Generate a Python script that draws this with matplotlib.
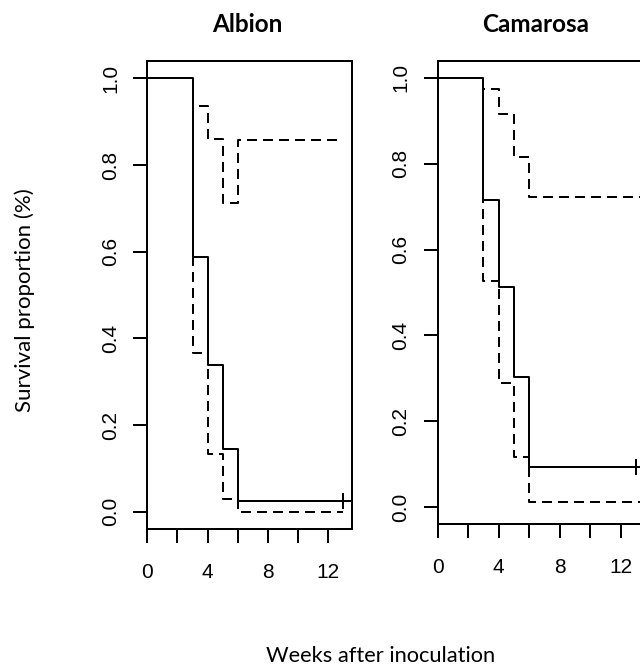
import matplotlib
matplotlib.use("Agg")
import matplotlib.pyplot as plt

# ---- data ----
panels = ["Albion", "Camarosa"]

alb_solid_t = [0, 3, 4, 5, 6, 13.6]
alb_solid_s = [1.0, 0.588, 0.339, 0.145, 0.025, 0.025]
alb_dash_hi_t = [0, 3, 4, 5, 6, 13]
alb_dash_hi_s = [1.0, 0.937, 0.860, 0.712, 0.857, 0.857]
alb_dash_lo_t = [0, 3, 4, 5, 6, 13]
alb_dash_lo_s = [1.0, 0.367, 0.134, 0.030, 0.0, 0.0]
alb_censor_t = [13]
alb_censor_s = [0.025]

cam_solid_t = [0, 3, 4, 5, 6, 14]
cam_solid_s = [1.0, 0.715, 0.512, 0.304, 0.0945, 0.0945]
cam_dash_hi_t = [0, 3, 4, 5, 6, 14]
cam_dash_hi_s = [1.0, 0.975, 0.915, 0.816, 0.723, 0.723]
cam_dash_lo_t = [0, 3, 4, 5, 6, 14]
cam_dash_lo_s = [1.0, 0.527, 0.289, 0.116, 0.011, 0.011]
cam_censor_t = [13]
cam_censor_s = [0.0945]

xticks = [0, 2, 4, 6, 8, 10, 12]
xtick_labels = ["0", "", "4", "", "8", "", "12"]
yticks = [0.0, 0.2, 0.4, 0.6, 0.8, 1.0]
ytick_labels = ["0.0", "0.2", "0.4", "0.6", "0.8", "1.0"]

W, H, DPI = 640, 668, 100
fig = plt.figure(figsize=(W / DPI, H / DPI), dpi=DPI)

def px_axes(left, top, right, bottom):
    return fig.add_axes([left / W, 1 - bottom / H, (right - left) / W, (bottom - top) / H])

LW = 1.44
ax1 = px_axes(147.3, 61, 352, 529)
ax2 = px_axes(437.7, 60.7, 437.7 + 15.25 * 13.57, 524.3)

data = [
    (ax1, alb_solid_t, alb_solid_s, alb_dash_hi_t, alb_dash_hi_s, alb_dash_lo_t, alb_dash_lo_s, alb_censor_t, alb_censor_s),
    (ax2, cam_solid_t, cam_solid_s, cam_dash_hi_t, cam_dash_hi_s, cam_dash_lo_t, cam_dash_lo_s, cam_censor_t, cam_censor_s),
]

tickfont = "Liberation Sans"
for (ax, st, ss, ht, hs, lt, ls, ct, cs) in data:
    l1, = ax.step(ht, hs, where="post", color="black", lw=LW, solid_capstyle="butt")
    l1.set_dashes((5, 3))
    l2, = ax.step(lt, ls, where="post", color="black", lw=LW)
    l2.set_dashes((5, 3))
    ax.step(st, ss, where="post", color="black", lw=LW)
    ax.plot(ct, cs, linestyle="none", marker="|", markersize=12, markeredgewidth=LW, color="black")
    ax.set_xlim(0, 13.57)
    ax.set_ylim(-0.04, 1.04)
    ax.set_xticks(xticks)
    ax.set_xticklabels(xtick_labels, fontfamily=tickfont, fontsize=15)
    ax.set_yticks(yticks)
    ax.set_yticklabels(ytick_labels, fontfamily=tickfont, fontsize=15, rotation=90, va="center")
    ax.tick_params(axis="both", direction="out", length=10, width=LW, colors="black")
    ax.tick_params(axis="x", pad=14.5)
    ax.tick_params(axis="y", pad=9.5)
    for sp in ax.spines.values():
        sp.set_linewidth(LW)
        sp.set_color("black")

fig.canvas.draw()
renderer = fig.canvas.get_renderer()

def fit_text(x, y, s, target_w, weight="normal", rotation=0, ha="center", va="baseline", family="Lato"):
    t = fig.text(x / W, 1 - y / H, s, fontsize=12, fontweight=weight, rotation=rotation,
                 ha=ha, va=va, fontfamily=family)
    bb = t.get_window_extent(renderer)
    cur = bb.width if rotation == 0 else bb.height
    t.set_fontsize(12 * target_w / cur)
    return t

fit_text(247, 32.5, "Albion", 70, weight="bold")
fit_text(536, 32.5, "Camarosa", 106, weight="bold")
fit_text(381, 661.5, "Weeks after inoculation", 230)
fit_text(25, 300, "Survival proportion (%)", 222, rotation=90, va="center")

fig.savefig("out.png", dpi=DPI)
